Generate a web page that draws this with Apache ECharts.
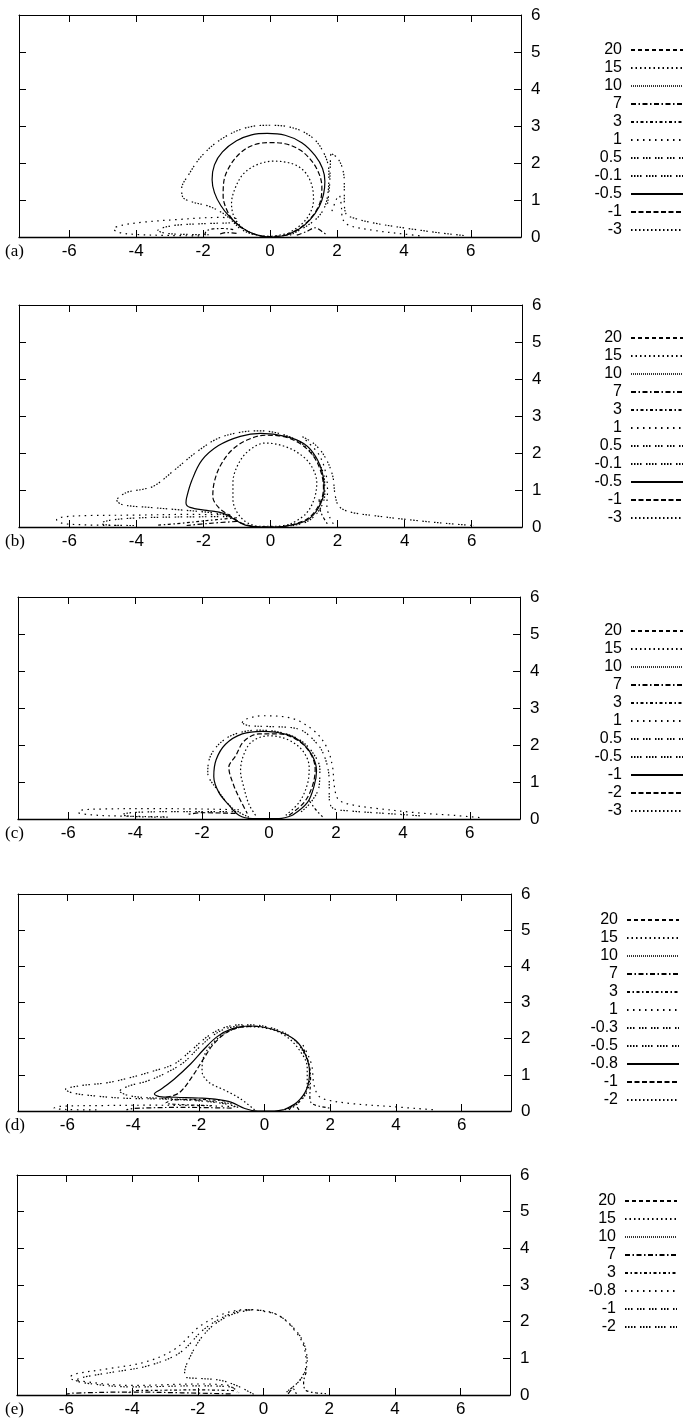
<!DOCTYPE html>
<html>
<head>
<meta charset="utf-8">
<script src="https://cdn.jsdelivr.net/npm/echarts@6/dist/echarts.min.js"></script>
<style>
  html, body { margin: 0; padding: 0; background: #fff; }
  #chart { width: 684px; height: 1425px; }
</style>
</head>
<body>
<div id="chart"></div>
<script>
// axis ticks shared by all panels
const X_TICKS = [-6, -4, -2, 0, 2, 4, 6];
const X_MIN = -7.5, X_MAX = 7.5;
const Y_MIN = 0, Y_MAX = 6;

// contour levels (legend order) for each panel
const LEVELS_A = ['20', '15', '10', '7', '3', '1', '0.5', '-0.1', '-0.5', '-1', '-3'];
const LEVELS_B = ['20', '15', '10', '7', '3', '1', '0.5', '-0.1', '-0.5', '-1', '-3'];
const LEVELS_C = ['20', '15', '10', '7', '3', '1', '0.5', '-0.5', '-1', '-2', '-3'];
const LEVELS_D = ['20', '15', '10', '7', '3', '1', '-0.3', '-0.5', '-0.8', '-1', '-2'];
const LEVELS_E = ['20', '15', '10', '7', '3', '-0.8', '-1', '-2'];

// contour lines: [level, [[x, y], ...]]
const CURVES_A = [
  ['-0.5', [[0.45,0.04],[0.85,0.2],[1.2,0.47],[1.47,0.82],[1.6,1.15],[1.64,1.5],[1.57,1.85],[1.35,2.2],[0.95,2.55],[0.45,2.75],[-0.08,2.8],[-0.55,2.76],[-1.0,2.6],[-1.42,2.3],[-1.66,1.95],[-1.73,1.55],[-1.66,1.2],[-1.47,0.85],[-1.22,0.56],[-0.85,0.26],[-0.45,0.07],[0,0],[0.45,0.04]]],
  ['-1', [[0.5,0.05],[0.95,0.28],[1.3,0.6],[1.5,0.95],[1.55,1.35],[1.47,1.7],[1.25,2.05],[0.9,2.35],[0.45,2.52],[0.0,2.55],[-0.45,2.5],[-0.85,2.3],[-1.18,1.95],[-1.38,1.5],[-1.4,1.1],[-1.3,0.75],[-1.1,0.45],[-0.8,0.22],[-0.4,0.06],[0,0.01],[0.5,0.05]]],
  ['-3', [[0.55,0.1],[0.95,0.35],[1.2,0.65],[1.3,1.0],[1.25,1.4],[1.05,1.75],[0.7,1.97],[0.1,2.05],[-0.4,1.95],[-0.8,1.7],[-1.05,1.3],[-1.15,0.9],[-1.05,0.5],[-0.75,0.2],[-0.4,0.06],[0,0.02],[0.55,0.1]]],
  ['-0.1', [[0.6,0.05],[1.1,0.3],[1.45,0.55],[1.65,0.85],[1.74,1.25],[1.76,1.75],[1.62,2.25],[1.25,2.7],[0.6,2.97],[-0.1,3.02],[-0.8,2.93],[-1.5,2.62],[-2.05,2.18],[-2.42,1.7],[-2.64,1.3],[-2.6,1.07],[-2.3,0.94],[-1.85,0.84],[-1.4,0.64],[-1.15,0.45],[-0.85,0.2],[-0.45,0.05]]],
  ['0.5', [[1.72,0.9],[1.78,1.4],[1.8,1.9],[1.83,2.25],[2.0,2.15],[2.15,1.9],[2.22,1.5],[2.22,1.0],[2.27,0.63],[2.55,0.5],[3.15,0.37],[4.05,0.24],[5.0,0.12],[5.9,0.03]]],
  ['1', [[1.85,0.7],[2.0,1.05],[2.07,1.12],[2.13,0.85],[2.17,0.5],[2.35,0.32],[3.1,0.18],[4.0,0.08],[4.6,0.02]]],
  ['1', [[-1.0,0.5],[-1.5,0.53],[-2.8,0.47],[-3.8,0.4],[-4.4,0.32],[-4.68,0.22],[-4.5,0.12],[-4.0,0.07],[-3.0,0.04],[-2.0,0.03]]],
  ['0.5', [[-1.2,0.38],[-2.0,0.36],[-2.8,0.32],[-3.2,0.25],[-3.35,0.18],[-3.1,0.1],[-2.5,0.07],[-1.8,0.06]]],
  ['3', [[-1.95,0.06],[-1.9,0.16],[-1.7,0.22],[-1.4,0.23],[-1.1,0.2]]],
  ['7', [[-1.0,0.1],[-1.3,0.12],[-1.5,0.08]]],
  ['7', [[0.8,0.05],[1.1,0.15],[1.35,0.25],[1.55,0.15],[1.7,0.05]]]
];

const CURVES_B = [
  ['-0.5', [[0.56,0.04],[1.08,0.18],[1.42,0.5],[1.6,1.0],[1.55,1.45],[1.35,1.9],[1.0,2.25],[0.45,2.45],[-0.3,2.53],[-0.9,2.45],[-1.55,2.2],[-2.05,1.8],[-2.35,1.25],[-2.5,0.8],[-2.52,0.65],[-2.4,0.53],[-1.9,0.45],[-1.4,0.37],[-1.1,0.22],[-0.75,0.05],[-0.3,0.0],[0.2,0.0],[0.56,0.04]]],
  ['-0.1', [[-1.3,0.32],[-1.9,0.4],[-2.8,0.47],[-3.6,0.53],[-4.4,0.6],[-4.58,0.72],[-4.3,0.93],[-3.8,1.02],[-3.45,1.12],[-2.85,1.55],[-2.2,2.03],[-1.55,2.4],[-0.9,2.56],[-0.35,2.6],[0.3,2.52],[0.9,2.28],[1.35,1.85],[1.6,1.35],[1.62,0.9],[1.45,0.45],[1.1,0.15],[0.6,0.03]]],
  ['-1', [[0.6,0.05],[1.1,0.22],[1.45,0.6],[1.58,1.05],[1.5,1.5],[1.25,1.95],[0.8,2.3],[0.2,2.47],[-0.15,2.48],[-0.7,2.35],[-1.15,2.08],[-1.5,1.65],[-1.68,1.2],[-1.72,0.82],[-1.55,0.53],[-1.2,0.3],[-0.85,0.1],[-0.4,0.01],[0.2,0.0],[0.6,0.05]]],
  ['-3', [[0.6,0.08],[1.05,0.35],[1.3,0.75],[1.38,1.2],[1.25,1.6],[0.95,1.92],[0.45,2.17],[-0.15,2.27],[-0.6,2.1],[-0.95,1.72],[-1.12,1.2],[-1.12,0.75],[-1.0,0.4],[-0.7,0.12],[-0.3,0.02],[0.2,0.02],[0.6,0.08]]],
  ['0.5', [[0.95,2.44],[1.3,2.25],[1.62,1.9],[1.85,1.4],[1.93,0.85],[2.05,0.55],[2.4,0.4],[3.05,0.31],[4.3,0.18],[5.2,0.1],[6.05,0.04]]],
  ['1', [[1.05,2.35],[1.45,1.95],[1.65,1.45],[1.7,0.95],[1.68,0.6],[1.75,0.3],[1.9,0.05]]],
  ['3', [[1.45,0.75],[1.5,0.4],[1.7,0.08]]],
  ['1', [[-1.2,0.33],[-2.5,0.34],[-4.1,0.32],[-5.4,0.31],[-6.2,0.27],[-6.38,0.2],[-6.2,0.1],[-5.6,0.06],[-4.5,0.04]]],
  ['0.5', [[-1.2,0.28],[-2.8,0.27],[-4.1,0.24],[-4.8,0.18],[-5.06,0.1],[-4.8,0.05],[-4.0,0.04]]],
  ['3', [[-1.0,0.25],[-1.6,0.2],[-2.8,0.09],[-3.4,0.05]]],
  ['7', [[-1.0,0.15],[-1.8,0.1],[-2.5,0.04]]]
];

const CURVES_C = [
  ['-1', [[0.7,0.1],[1.15,0.45],[1.35,0.9],[1.42,1.3],[1.3,1.7],[1.0,2.05],[0.55,2.28],[-0.2,2.37],[-0.8,2.3],[-1.3,2.02],[-1.58,1.6],[-1.65,1.15],[-1.5,0.72],[-1.2,0.38],[-0.9,0.1],[-0.5,0.01],[0.3,0.01],[0.7,0.1]]],
  ['-0.5', [[-0.6,0.05],[-1.1,0.3],[-1.55,0.8],[-1.83,1.25],[-1.75,1.7],[-1.4,2.1],[-0.9,2.33],[-0.3,2.4],[0.3,2.35],[0.9,2.15],[1.3,1.8],[1.52,1.35],[1.5,0.9],[1.25,0.45],[0.9,0.15]]],
  ['1', [[-0.8,2.6],[-0.75,2.68],[-0.2,2.79],[0.6,2.74],[1.3,2.42],[1.72,1.95],[1.9,1.4],[1.95,0.9],[2.08,0.52],[2.5,0.38],[3.1,0.3],[4.4,0.17],[5.5,0.1],[6.4,0.03]]],
  ['0.5', [[-0.78,2.58],[-0.6,2.52],[0.0,2.5],[0.85,2.44],[1.45,2.02],[1.7,1.58],[1.8,1.0],[1.8,0.6],[1.9,0.3],[2.4,0.22],[3.5,0.15],[4.6,0.08]]],
  ['-2', [[0.6,0.1],[1.05,0.45],[1.3,0.9],[1.38,1.35],[1.25,1.75],[0.9,2.1],[0.3,2.3],[-0.3,2.3],[-0.75,2.1],[-1.0,1.7],[-1.2,1.4],[-1.05,0.9],[-0.85,0.5],[-0.65,0.15]]],
  ['-3', [[0.5,0.1],[0.9,0.45],[1.15,0.95],[1.2,1.4],[1.0,1.85],[0.55,2.15],[0.0,2.25],[-0.5,2.1],[-0.75,1.75],[-0.85,1.3],[-0.75,0.85],[-0.6,0.4],[-0.4,0.1]]],
  ['3', [[1.2,0.5],[1.4,0.25],[1.6,0.06]]],
  ['1', [[-0.9,0.25],[-2.0,0.27],[-3.5,0.28],[-5.0,0.27],[-5.6,0.24],[-5.7,0.18],[-5.4,0.12],[-4.5,0.08],[-3.0,0.06]]],
  ['0.5', [[-0.9,0.2],[-2.5,0.2],[-4.0,0.18],[-4.4,0.12],[-4.1,0.07],[-3.0,0.05]]],
  ['-2', [[-1.0,0.15],[-2.0,0.17],[-2.4,0.13]]]
];

const CURVES_D = [
  ['-0.8', [[0.6,0.04],[1.0,0.25],[1.28,0.6],[1.37,1.08],[1.25,1.55],[0.95,1.95],[0.45,2.2],[-0.1,2.33],[-0.5,2.35],[-1.0,2.27],[-1.45,2.05],[-1.85,1.7],[-2.25,1.3],[-2.75,0.88],[-3.15,0.6],[-3.35,0.47],[-3.2,0.4],[-2.7,0.38],[-2.0,0.36],[-1.5,0.33],[-1.0,0.24],[-0.6,0.07],[-0.2,0.0],[0.3,0.0],[0.6,0.04]]],
  ['-0.3', [[-0.8,0.1],[-1.2,0.2],[-2.0,0.28],[-3.0,0.33],[-4.2,0.35],[-5.2,0.42],[-5.85,0.5],[-6.05,0.6],[-5.6,0.7],[-4.8,0.78],[-4.1,0.92],[-3.4,1.1],[-2.75,1.3],[-2.2,1.7],[-1.75,2.05],[-1.3,2.28],[-0.8,2.38],[-0.4,2.38],[0.2,2.3],[0.8,2.05],[1.2,1.6],[1.38,1.08],[1.3,0.55],[1.0,0.2],[0.6,0.03]]],
  ['-0.5', [[-1.0,0.2],[-2.0,0.3],[-3.2,0.35],[-4.1,0.42],[-4.4,0.55],[-4.1,0.7],[-3.6,0.82],[-3.0,1.05],[-2.45,1.35],[-2.0,1.75],[-1.55,2.1],[-1.1,2.3],[-0.6,2.36]]],
  ['-1', [[-3.0,0.38],[-2.6,0.5],[-2.2,0.95],[-1.85,1.45],[-1.55,1.85],[-1.1,2.2],[-0.6,2.33],[-0.2,2.34]]],
  ['-2', [[-0.3,0.03],[-0.75,0.35],[-1.2,0.57],[-1.7,0.8],[-1.9,1.1],[-1.85,1.5],[-1.6,1.85],[-1.2,2.15],[-0.6,2.33],[0.0,2.3],[0.6,2.1],[1.05,1.7],[1.3,1.2],[1.3,0.7],[1.1,0.3],[0.8,0.06]]],
  ['1', [[1.17,1.82],[1.3,1.6],[1.44,1.25],[1.5,0.75],[1.62,0.45],[1.8,0.33],[2.6,0.21],[3.9,0.12],[5.2,0.03]]],
  ['3', [[1.2,1.7],[1.35,1.3],[1.4,0.9],[1.38,0.4],[1.45,0.2],[2.0,0.08]]],
  ['1', [[-0.9,0.12],[-2.0,0.15],[-3.5,0.16],[-5.0,0.15],[-6.2,0.13],[-6.4,0.08],[-6.0,0.04],[-5.0,0.03]]],
  ['7', [[-1.0,0.08],[-2.5,0.1],[-4.0,0.07],[-4.2,0.03]]],
  ['3', [[-1.2,0.28],[-2.0,0.32],[-2.8,0.3],[-3.0,0.22],[-2.6,0.18],[-1.6,0.15]]],
  ['7', [[0.75,0.03],[0.9,0.18],[1.05,0.03]]]
];

const CURVES_E = [
  ['-0.8', [[0.7,0.08],[1.1,0.4],[1.3,0.85],[1.22,1.35],[1.0,1.7],[0.5,2.15],[-0.1,2.3],[-0.45,2.33],[-1.1,2.25],[-1.9,1.9],[-2.7,1.25],[-3.6,0.9],[-4.7,0.72],[-5.75,0.57],[-5.9,0.47],[-5.2,0.34],[-4.0,0.26],[-2.0,0.3],[-1.05,0.26],[-0.8,0.08]]],
  ['-1', [[0.75,0.12],[1.15,0.45],[1.33,0.9],[1.25,1.35],[1.02,1.72],[0.5,2.15],[-0.1,2.31],[-0.5,2.32],[-1.05,2.2],[-1.8,1.8],[-2.55,1.15],[-3.5,0.8],[-4.6,0.62],[-5.5,0.48],[-5.7,0.4],[-5.2,0.3],[-4.0,0.22],[-2.0,0.25],[-1.0,0.22],[-0.75,0.06]]],
  ['-2', [[-0.3,0.02],[-0.8,0.25],[-1.3,0.4],[-1.9,0.45],[-2.35,0.48],[-2.4,0.6],[-2.2,1.1],[-1.9,1.55],[-1.5,1.92],[-0.95,2.2],[-0.4,2.32]]],
  ['7', [[-1.0,0.03],[-2.5,0.06],[-4.0,0.08],[-5.8,0.05],[-6.0,0.02]]],
  ['3', [[-0.9,0.12],[-2.0,0.14],[-3.0,0.13],[-4.0,0.12],[-4.1,0.06]]],
  ['3', [[1.3,0.62],[1.22,0.35],[1.3,0.12],[1.9,0.04]]],
  ['7', [[0.75,0.03],[0.9,0.17],[1.0,0.03]]]
];

// gnuplot-like line types, in legend order
const DASH = {
  dash: [4, 3],
  dot: [1.5, 3],
  fine: [1, 1],
  dashdot: [5, 2.5, 1.5, 2.5],
  dashdot2: [3, 2.5, 1.5, 2.5],
  sparse: [1.5, 4.5],
  grp3: [1.5, 1.5, 1.5, 1.5, 1.5, 4.5],
  grp4: [1.5, 1.5, 1.5, 1.5, 1.5, 1.5, 1.5, 4.5],
  solid: 'solid',
  longdash: [5, 2.5],
  dot2: [1.5, 2.5]
};
const STYLE_11 = ['dash', 'dot', 'fine', 'dashdot', 'dashdot2', 'sparse', 'grp3', 'grp4', 'solid', 'longdash', 'dot2'];
const STYLE_8 = ['dash', 'dot', 'fine', 'dashdot', 'dashdot2', 'sparse', 'grp3', 'grp4'];

const panels = [
  { key: 'a', levels: LEVELS_A, curves: CURVES_A, styles: STYLE_11, top: 15, h: 222, left: 19, right: 163, legTop: 42, legRight: 0 },
  { key: 'b', levels: LEVELS_B, curves: CURVES_B, styles: STYLE_11, top: 305, h: 222, left: 19, right: 162, legTop: 330, legRight: 0 },
  { key: 'c', levels: LEVELS_C, curves: CURVES_C, styles: STYLE_11, top: 597, h: 222, left: 18, right: 164, legTop: 623, legRight: 0 },
  { key: 'd', levels: LEVELS_D, curves: CURVES_D, styles: STYLE_11, top: 894, h: 217, left: 18, right: 173, legTop: 912, legRight: 4 },
  { key: 'e', levels: LEVELS_E, curves: CURVES_E, styles: STYLE_8, top: 1175, h: 220, left: 17, right: 174, legTop: 1193, legRight: 6 }
];

const INK = '#000';
const FONT = 'Liberation Sans';

let grid = [], xAxis = [], yAxis = [], legend = [], title = [], series = [];

panels.forEach((p, i) => {
  grid.push({ left: p.left, right: p.right, top: p.top, height: p.h, containLabel: false });

  const xBase = {
    type: 'value', gridIndex: i, min: X_MIN, max: X_MAX,
    splitLine: { show: false },
    axisTick: { inside: true, length: 7, customValues: X_TICKS, lineStyle: { color: INK } }
  };
  xAxis.push(Object.assign({}, xBase, {
    position: 'bottom',
    axisLine: { onZero: false, lineStyle: { color: INK, width: 1.4 } },
    axisLabel: { customValues: X_TICKS, color: '#000', fontFamily: FONT, fontSize: 17, margin: 6 }
  }));
  xAxis.push(Object.assign({}, xBase, {
    position: 'top',
    axisLine: { onZero: false, lineStyle: { color: INK, width: 1 } },
    axisLabel: { show: false }
  }));

  const yBase = {
    type: 'value', gridIndex: i, min: Y_MIN, max: Y_MAX, interval: 1,
    splitLine: { show: false },
    axisLine: { show: true, onZero: false, lineStyle: { color: INK, width: 1 } },
    axisTick: { inside: true, length: 7, lineStyle: { color: INK } }
  };
  yAxis.push(Object.assign({}, yBase, {
    position: 'right',
    axisLabel: { color: '#000', fontFamily: FONT, fontSize: 17, margin: 10 }
  }));
  yAxis.push(Object.assign({}, yBase, { position: 'left', axisLabel: { show: false } }));

  title.push({
    text: '(' + p.key + ')', left: 5, top: p.top + p.h + 6, padding: 0,
    textStyle: { fontFamily: 'Liberation Serif', fontSize: 17, fontWeight: 'normal', color: '#000' }
  });

  legend.push({
    orient: 'vertical', right: p.legRight, top: p.legTop, padding: 0,
    align: 'right', itemWidth: 52, itemHeight: 14, itemGap: 2,
    selectedMode: false,
    data: p.levels.map(l => p.key + ':' + l),
    formatter: n => n.split(':')[1],
    itemStyle: { opacity: 0 },
    textStyle: { color: '#000', fontFamily: FONT, fontSize: 16, padding: [0, 4, 0, 0] }
  });

  p.levels.forEach((lv, j) => {
    const st = p.styles[j];
    const ls = {
      color: st === 'fine' ? '#333' : INK,
      width: st === 'fine' ? 1 : 1.2,
      type: DASH[st]
    };
    let pieces = p.curves.filter(c => c[0] === lv);
    if (!pieces.length) pieces = [[lv, []]];
    pieces.forEach(c => {
      series.push({
        type: 'line', name: p.key + ':' + lv,
        xAxisIndex: i * 2, yAxisIndex: i * 2,
        data: c[1], symbol: 'none', smooth: 0.35,
        lineStyle: ls, itemStyle: { color: ls.color },
        silent: true, animation: false
      });
    });
  });
});

const chart = echarts.init(document.getElementById('chart'));
chart.setOption({
  backgroundColor: '#fff',
  animation: false,
  title, grid, xAxis, yAxis, legend, series
});
</script>
</body>
</html>
